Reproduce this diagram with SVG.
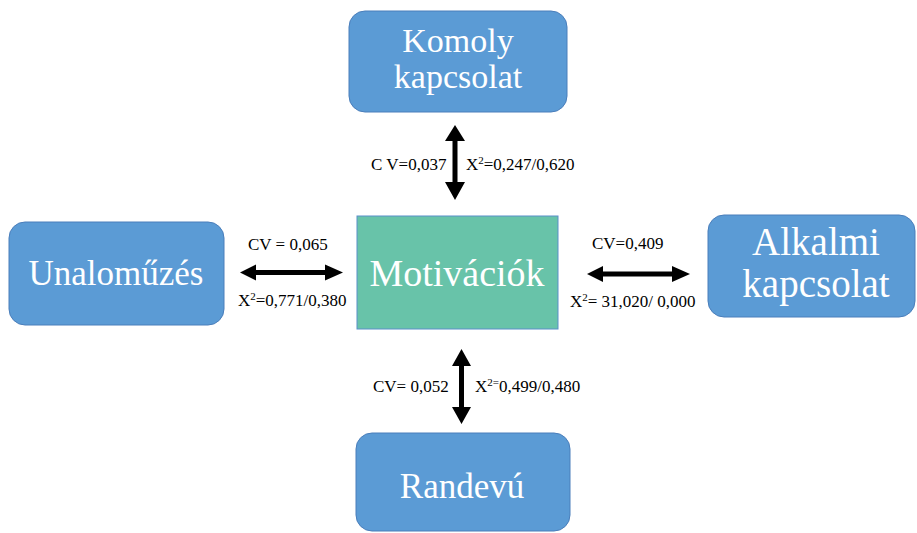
<svg xmlns="http://www.w3.org/2000/svg" width="917" height="533" viewBox="0 0 917 533">
<style>
.box{fill:#5B9BD5;stroke:#4A7EBB;stroke-width:1}
.center{fill:#68C3A9;stroke:#5B8FC9;stroke-width:1}
.nt{font-family:"Liberation Serif","Times New Roman",serif;fill:#ffffff;text-anchor:middle}
.lbl{font-family:"Liberation Serif","Times New Roman",serif;font-size:17px;fill:#000000}
.sup{font-size:11px}
.arr{fill:#000000}
</style>
<rect width="917" height="533" fill="#ffffff"/>
<g id="komoly">
<rect class="box" x="349" y="11" width="218" height="101" rx="16"/>
<text class="nt" x="458" y="52" font-size="34">Komoly</text>
<text class="nt" x="458" y="88" font-size="34">kapcsolat</text>
</g>
<g id="unalomuzes">
<rect class="box" x="9" y="222" width="215" height="103" rx="16"/>
<text class="nt" x="116" y="285" font-size="35">Unaloműzés</text>
</g>
<g id="motivaciok">
<rect class="center" x="357" y="216" width="201" height="113"/>
<text class="nt" x="457" y="286" font-size="38">Motivációk</text>
</g>
<g id="alkalmi">
<rect class="box" x="708" y="215" width="207" height="102" rx="16"/>
<text class="nt" x="816" y="255" font-size="39">Alkalmi</text>
<text class="nt" x="816" y="297" font-size="39">kapcsolat</text>
</g>
<g id="randevu">
<rect class="box" x="356" y="433" width="214" height="98" rx="16"/>
<text class="nt" x="462" y="498" font-size="35">Randevú</text>
</g>
<g id="connectors">
<polygon class="arr" points="455,125 465,141 457.5,141 457.5,182 465,182 455,200 445,182 452.5,182 452.5,141 445,141"/>
<polygon class="arr" points="240,272.5 256,264.5 256,270 325,270 325,264.5 343,272.5 325,280.5 325,275 256,275 256,280.5"/>
<polygon class="arr" points="587,274 603,266 603,271.5 672,271.5 672,266 690,274 672,282 672,276.5 603,276.5 603,282"/>
<polygon class="arr" points="461.5,349 471,366 464,366 464,407 471,407 461.5,424 452,407 459,407 459,366 452,366"/>
</g>
<g id="labels">
<text class="lbl" x="371" y="170">C V=0,037</text>
<text class="lbl" x="466" y="170">X<tspan class="sup" dy="-6">2</tspan><tspan dy="6">=0,247/0,620</tspan></text>
<text class="lbl" x="248" y="250">CV = 0,065</text>
<text class="lbl" x="238" y="306">X<tspan class="sup" dy="-6">2</tspan><tspan dy="6">=0,771/0,380</tspan></text>
<text class="lbl" x="592" y="249">CV=0,409</text>
<text class="lbl" x="570" y="307">X<tspan class="sup" dy="-6">2</tspan><tspan dy="6">= 31,020/ 0,000</tspan></text>
<text class="lbl" x="373" y="392">CV= 0,052</text>
<text class="lbl" x="475" y="392">X<tspan class="sup" dy="-6">2=</tspan><tspan dy="6">0,499/0,480</tspan></text>
</g>
</svg>
